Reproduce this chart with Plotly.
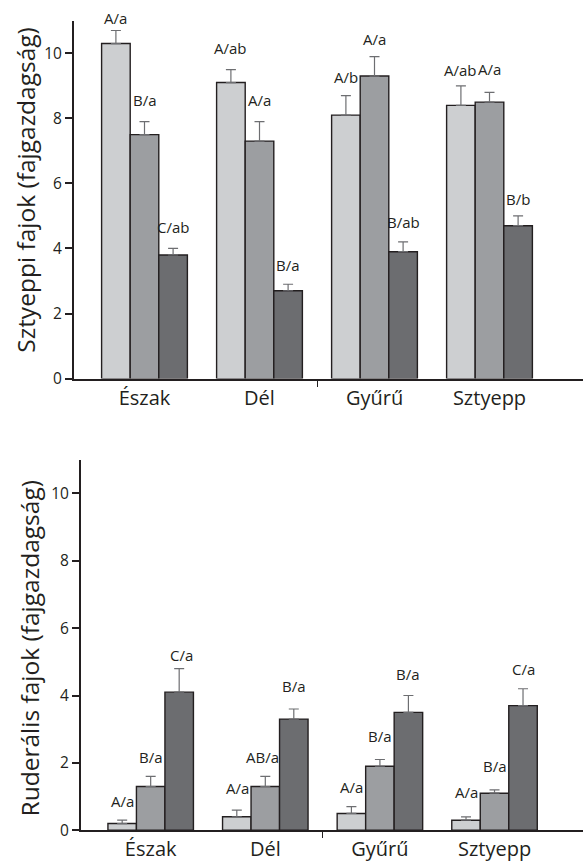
import plotly.graph_objects as go

# Sites along the x axis
sites = ["Észak", "Dél", "Gyűrű", "Sztyepp"]
site_pos = [0, 1, 2, 3]
y_ticks = [0, 2, 4, 6, 8, 10]

# Sztyeppi fajok (fajgazdagság): three treatments per site, mean and SE
steppe_1 = [10.3, 9.1, 8.1, 8.4]
steppe_2 = [7.5, 7.3, 9.3, 8.5]
steppe_3 = [3.8, 2.7, 3.9, 4.7]
steppe_err_1 = [0.4, 0.4, 0.6, 0.6]
steppe_err_2 = [0.4, 0.6, 0.6, 0.3]
steppe_err_3 = [0.2, 0.2, 0.3, 0.3]
steppe_lab_1 = ["A/a", "A/ab", "A/b", "A/ab"]
steppe_lab_2 = ["B/a", "A/a", "A/a", "A/a"]
steppe_lab_3 = ["C/ab", "B/a", "B/ab", "B/b"]

# Ruderális fajok (fajgazdagság)
ruderal_1 = [0.2, 0.4, 0.5, 0.3]
ruderal_2 = [1.3, 1.3, 1.9, 1.1]
ruderal_3 = [4.1, 3.3, 3.5, 3.7]
ruderal_err_1 = [0.1, 0.2, 0.2, 0.1]
ruderal_err_2 = [0.3, 0.3, 0.2, 0.1]
ruderal_err_3 = [0.7, 0.3, 0.5, 0.5]
ruderal_lab_1 = ["A/a", "A/a", "A/a", "A/a"]
ruderal_lab_2 = ["B/a", "AB/a", "B/a", "B/a"]
ruderal_lab_3 = ["C/a", "B/a", "B/a", "C/a"]

# --- styling -------------------------------------------------------------
W, H = 583, 865
FONT = "Open Sans"
INK = "#231f20"
FILLS = ["#cdcfd1", "#9c9ea1", "#6c6d70"]
BARGAP = 0.254
BAR_W = (1 - BARGAP) / 3

# pixel lift of each letter label above its error bar
steppe_shift = [[13, 22, 19, 16], [22, 22, 18, 23], [21, 19, 20, 17]]
ruderal_shift = [[19, 22, 20, 25], [19, 19, 24, 24], [14, 23, 22, 20]]
ruderal_xshift = [[0, 1, 0, 0], [0, -3, 0, 0], [2, 0, 0, 0]]

fig = go.Figure()
annotations = []


def add_panel(series, errors, labels, shifts, xshifts, xa, ya):
    for k, (vals, errs, labs) in enumerate(zip(series, errors, labels)):
        fig.add_trace(go.Bar(
            x=site_pos, y=vals,
            xaxis=xa, yaxis=ya,
            marker=dict(color=FILLS[k], line=dict(color=INK, width=1.4)),
            error_y=dict(type="data", symmetric=False, array=errs,
                         arrayminus=[0] * len(errs),
                         color="#6d6e71", thickness=1.2, width=5),
            showlegend=False, hoverinfo="skip",
        ))
        for i, lab in enumerate(labs):
            annotations.append(dict(
                x=site_pos[i] + (k - 1) * BAR_W, y=vals[i] + errs[i],
                xref=xa, yref=ya, text=lab, showarrow=False,
                yanchor="middle", xanchor="center",
                yshift=shifts[k][i], xshift=xshifts[k][i],
                font=dict(family=FONT, size=15, color=INK),
            ))


add_panel([steppe_1, steppe_2, steppe_3],
          [steppe_err_1, steppe_err_2, steppe_err_3],
          [steppe_lab_1, steppe_lab_2, steppe_lab_3],
          steppe_shift, [[0] * 4] * 3, "x", "y")
add_panel([ruderal_1, ruderal_2, ruderal_3],
          [ruderal_err_1, ruderal_err_2, ruderal_err_3],
          [ruderal_lab_1, ruderal_lab_2, ruderal_lab_3],
          ruderal_shift, ruderal_xshift, "x2", "y2")

# y-axis titles
annotations.append(dict(
    text="Sztyeppi fajok (fajgazdagság)", textangle=-90,
    xref="paper", yref="paper", x=26 / W, y=1 - 192 / H,
    showarrow=False, xanchor="center", yanchor="middle",
    font=dict(family=FONT, size=24.5, color=INK)))
annotations.append(dict(
    text="Ruderális fajok (fajgazdagság)", textangle=-90,
    xref="paper", yref="paper", x=29 / W, y=1 - 656 / H,
    showarrow=False, xanchor="center", yanchor="middle",
    font=dict(family=FONT, size=24.5, color=INK)))


def x_axis(domain, rng, anchor):
    return dict(
        domain=domain, range=rng, anchor=anchor,
        tickmode="array", tickvals=site_pos, ticktext=sites,
        ticks="", showgrid=False, zeroline=False,
        showline=True, linecolor=INK, linewidth=2,
        tickfont=dict(family=FONT, size=20, color=INK),
        minor=dict(tickvals=[1.5], ticks="outside", ticklen=6,
                   tickwidth=1.4, tickcolor=INK, showgrid=False),
        fixedrange=True,
    )


def y_axis(domain, anchor):
    return dict(
        domain=domain, range=[0, 11], anchor=anchor,
        tickmode="array", tickvals=y_ticks,
        ticks="outside", ticklen=7, tickwidth=1.6, tickcolor=INK,
        showgrid=False, zeroline=False,
        showline=True, linecolor=INK, linewidth=2,
        tickfont=dict(family=FONT, size=15.5, color=INK),
        fixedrange=True,
    )


fig.update_layout(
    width=W, height=H,
    margin=dict(l=0, r=0, t=0, b=0),
    paper_bgcolor="white", plot_bgcolor="white",
    barmode="group", bargap=BARGAP, bargroupgap=0,
    xaxis=x_axis([74 / W, 1], [-0.613, 3.813], "y"),
    yaxis=y_axis([1 - 383 / H, 1 - 21 / H], "x"),
    xaxis2=x_axis([81 / W, 1], [-0.608, 3.772], "y2"),
    yaxis2=y_axis([1 - 840 / H, 1 - 465 / H], "x2"),
    annotations=annotations,
    font=dict(family=FONT, color=INK),
)

fig.write_html("out.html", config={"displayModeBar": False})
